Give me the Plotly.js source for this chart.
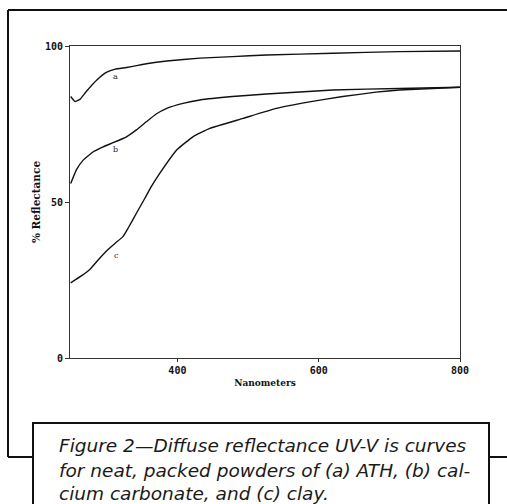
<!DOCTYPE html>
<html>
<head>
<meta charset="utf-8">
<script src="https://cdn.plot.ly/plotly-3.0.1.min.js"></script>
<style>html,body{margin:0;padding:0;background:#fff;}#chart{width:507px;height:504px;}</style>
</head>
<body>
<div id="chart"></div>
<script>
// Curve (a) ATH
const nmA = [249, 255, 262, 271, 286, 300, 312, 328, 342, 356, 385, 432, 478, 526, 620, 714, 800];
const refA = [83.8, 82.2, 82.9, 85.4, 89.1, 91.6, 92.6, 93.1, 93.7, 94.3, 95.2, 96.1, 96.6, 97.1, 97.7, 98.2, 98.4];
// Curve (b) calcium carbonate
const nmB = [249, 257, 267, 281, 295, 309, 328, 342, 356, 370, 385, 408, 432, 478, 526, 620, 714, 800];
const refB = [55.9, 60.3, 63.5, 66.1, 67.7, 69.0, 70.9, 73.1, 75.7, 78.2, 80.0, 81.6, 82.7, 83.8, 84.6, 85.9, 86.4, 86.8];
// Curve (c) clay
const nmC = [249, 264, 276, 290, 300, 312, 323, 330, 342, 354, 363, 375, 399, 422, 446, 493, 540, 587, 634, 681, 714, 800];
const refC = [24.1, 26.3, 28.4, 32.0, 34.4, 36.8, 38.9, 41.5, 46.4, 51.2, 54.9, 59.2, 66.7, 70.9, 73.6, 76.8, 80.0, 82.1, 83.8, 85.2, 85.9, 86.8];
// Curve labels
const curveLabels = ['a', 'b', 'c'];
const labelNm = [312, 313, 314];
const labelRef = [90.1, 66.7, 33];
// Axis ticks
const xTicks = [400, 600, 800];
const yTicks = [0, 50, 100];
// Caption lines
const captionLines = [
  'Figure 2\u2014Diffuse reflectance UV-V is curves',
  'for neat, packed powders of (a) ATH, (b) cal-',
  'cium carbonate, and (c) clay.'
];

const lineStyle = {color: '#111', width: 1.4, shape: 'spline', smoothing: 0.35};
const traces = [
  {x: nmA, y: refA, mode: 'lines', line: lineStyle, name: 'a', hoverinfo: 'skip'},
  {x: nmB, y: refB, mode: 'lines', line: lineStyle, name: 'b', hoverinfo: 'skip'},
  {x: nmC, y: refC, mode: 'lines', line: lineStyle, name: 'c', hoverinfo: 'skip'}
];

const L = 70, R = 460, T = 46, B = 358;
const px = v => (v - L) / (R - L);
const py = v => (B - v) / (B - T);

const annotations = curveLabels.map((t, i) => ({
  x: labelNm[i], y: labelRef[i], xref: 'x', yref: 'y', text: t, showarrow: false,
  font: {family: 'DejaVu Serif', size: 8, color: '#222'}
}));
const capY = [446, 470, 493];
captionLines.forEach((t, i) => annotations.push({
  x: px(57), y: py(capY[i]), xref: 'paper', yref: 'paper', xanchor: 'left', yanchor: 'middle',
  text: '<i>' + t + '</i>', showarrow: false,
  font: {family: 'DejaVu Sans', size: 18.5, color: '#1a1a1a'}
}));

const frame = {color: '#111', width: 2};
const shapes = [
  {type: 'line', xref: 'paper', yref: 'paper', x0: px(8), x1: px(520), y0: py(10), y1: py(10), line: frame},
  {type: 'line', xref: 'paper', yref: 'paper', x0: px(8), x1: px(8), y0: py(10), y1: py(457), line: frame},
  {type: 'line', xref: 'paper', yref: 'paper', x0: px(8), x1: px(33), y0: py(457), y1: py(457), line: frame},
  {type: 'line', xref: 'paper', yref: 'paper', x0: px(489), x1: px(520), y0: py(457), y1: py(457), line: frame},
  {type: 'rect', xref: 'paper', yref: 'paper', x0: px(33), x1: px(489), y0: py(423), y1: py(520), line: frame, fillcolor: 'rgba(0,0,0,0)'}
];

const layout = {
  width: 507, height: 504,
  margin: {l: L, r: 507 - R, t: T, b: 504 - B, pad: 0},
  paper_bgcolor: '#fff', plot_bgcolor: '#fff',
  showlegend: false,
  xaxis: {
    range: [248, 800], tickvals: xTicks, ticks: 'outside', ticklen: 3, tickcolor: '#333',
    showline: true, linecolor: '#333', linewidth: 1, mirror: true, showgrid: false, zeroline: false,
    tickfont: {family: 'DejaVu Sans Mono', size: 10, color: '#111', weight: 'bold'},
    title: {text: '<b>Nanometers</b>', font: {family: 'DejaVu Serif', size: 9, color: '#111'}, standoff: 4}
  },
  yaxis: {
    range: [0, 100], tickvals: yTicks, ticks: 'outside', ticklen: 4, tickcolor: '#333',
    showline: true, linecolor: '#333', linewidth: 1, mirror: true, showgrid: false, zeroline: false,
    tickfont: {family: 'DejaVu Sans Mono', size: 10, color: '#111', weight: 'bold'},
    title: {text: '<b>% Reflectance</b>', font: {family: 'DejaVu Serif', size: 10.5, color: '#111'}, standoff: 2}
  },
  annotations: annotations,
  shapes: shapes
};

Plotly.newPlot('chart', traces, layout, {displayModeBar: false, staticPlot: true});
</script>
</body>
</html>
